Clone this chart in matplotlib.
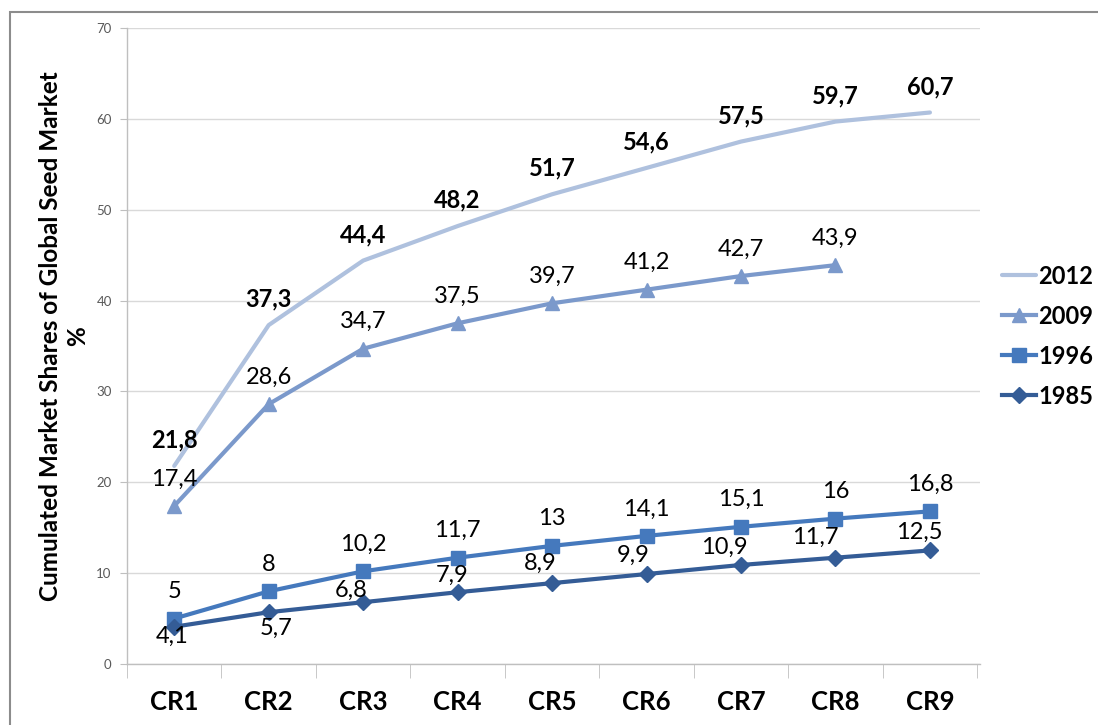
import matplotlib
matplotlib.use("Agg")
import matplotlib.pyplot as plt
from matplotlib.patches import Rectangle
import numpy as np

categories = ["CR1", "CR2", "CR3", "CR4", "CR5", "CR6", "CR7", "CR8", "CR9"]
v2012 = [21.8, 37.3, 44.4, 48.2, 51.7, 54.6, 57.5, 59.7, 60.7]
v2009 = [17.4, 28.6, 34.7, 37.5, 39.7, 41.2, 42.7, 43.9]
v1996 = [5, 8, 10.2, 11.7, 13, 14.1, 15.1, 16, 16.8]
v1985 = [4.1, 5.7, 6.8, 7.9, 8.9, 9.9, 10.9, 11.7, 12.5]
series_names = ["2012", "2009", "1996", "1985"]

FONT = "Lato"
plt.rcParams['font.family'] = [FONT, 'DejaVu Sans']

W, H = 1098, 725
fig = plt.figure(figsize=(W / 100, H / 100), dpi=100)
ax = fig.add_axes([127 / W, (H - 664) / H, (980 - 127) / W, (664 - 28) / H])

c2012 = "#AFC1DE"
c2009 = "#7B99CB"
c1996 = "#4579BD"
c1985 = "#345C96"

x = np.arange(len(categories))
l2012, = ax.plot(x[:len(v2012)], v2012, color=c2012, lw=3.0, solid_capstyle='round', zorder=3)
l2009, = ax.plot(x[:len(v2009)], v2009, color=c2009, lw=3.0, marker='^', ms=10, zorder=4)
l1996, = ax.plot(x[:len(v1996)], v1996, color=c1996, lw=3.0, marker='s', ms=10, zorder=4)
l1985, = ax.plot(x[:len(v1985)], v1985, color=c1985, lw=3.0, marker='D', ms=8, zorder=4)

def fmt(v):
    return ("%g" % v).replace(".", ",")

px = 0.72  # points per pixel

def label(vals, offs, bold=False):
    for i, v in enumerate(vals):
        dx, dy = offs[i] if isinstance(offs, list) else offs
        ax.annotate(fmt(v), (x[i], v), xytext=(dx * px, -dy * px), textcoords='offset points',
                    ha='center', va='center', fontsize=17,
                    fontweight='bold' if bold else 'normal', color='black', zorder=6)

label(v2012, (0, -26), bold=True)
label(v2009, (0, -27))
label(v1996, (0, -27))
off1985 = [(-2, 10), (7, 16), (-12, -12), (-5, -17), (-12, -20), (-13, -19), (-17, -18), (-20, -20), (-11, -18)]
label(v1985, off1985)

ax.set_xlim(-0.5, 8.5 + 0.03)
ax.set_ylim(0, 70)
ax.set_yticks(range(0, 71, 10))
ax.yaxis.grid(True, color="#D9D9D9", lw=1.0)
ax.set_axisbelow(True)
for s in ["top", "right"]:
    ax.spines[s].set_visible(False)
for s in ["left", "bottom"]:
    ax.spines[s].set_color("#BFBFBF")
    ax.spines[s].set_linewidth(1.0)

ax.tick_params(axis='y', length=5, color="#BFBFBF", labelsize=9.5, labelcolor="#595959", pad=6)
ax.set_xticks(x)
ax.set_xticklabels(categories, fontsize=18.5, fontweight='bold')
ax.set_xticks(np.arange(-0.5, 9.0, 1.0), minor=True)
ax.tick_params(axis='x', which='major', length=0, pad=19)
ax.tick_params(axis='x', which='minor', length=10, color="#BFBFBF")

fig.text(64 / W, 1 - 336 / H, "Cumulated Market Shares of Global Seed Market\n%",
         rotation=90, ha='center', va='center', multialignment='center',
         fontsize=17.5, fontweight='bold', linespacing=1.2)

leg = fig.legend([l2012, l2009, l1996, l1985], series_names,
                 loc='center left', bbox_to_anchor=(1002 / W, 1 - 336 / H),
                 frameon=False, prop={'weight': 'bold', 'size': 17},
                 handlelength=1.45, handletextpad=0.1, labelspacing=0.72,
                 borderpad=0, borderaxespad=0)

fig.add_artist(Rectangle((10 / W, -0.1), 1.2, (H - 12) / H + 0.1, transform=fig.transFigure,
                         fill=False, ec="#8C8C8C", lw=1.5))

fig.savefig("out.png", dpi=100, facecolor='white')
